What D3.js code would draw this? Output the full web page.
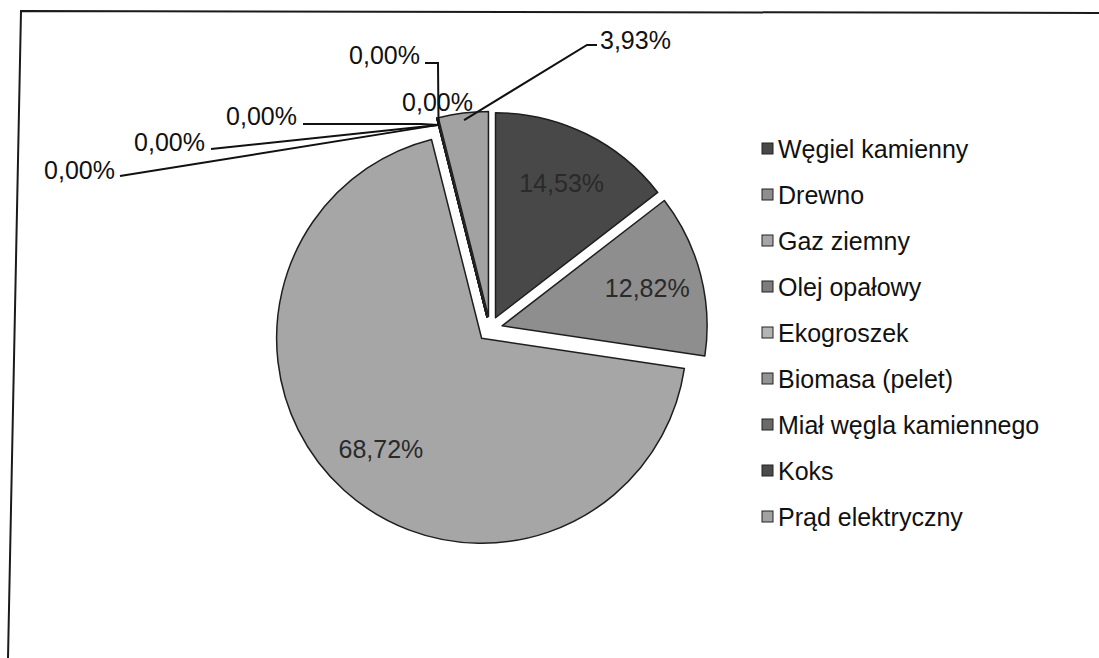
<!DOCTYPE html>
<html>
<head>
<meta charset="utf-8">
<script src="https://cdn.jsdelivr.net/npm/d3@7"></script>
<style>
  body { margin: 0; background: #fff; }
  svg { display: block; font-family: "Liberation Sans", Arial, sans-serif; }
</style>
</head>
<body>
<div id="chart"></div>
<script>
// data
const categories = ["Węgiel kamienny", "Drewno", "Gaz ziemny", "Olej opałowy", "Ekogroszek",
  "Biomasa (pelet)", "Miał węgla kamiennego", "Koks", "Prąd elektryczny"];
const shares = [14.53, 12.82, 68.72, 0, 0, 0, 0, 0, 3.93];
const valueLabels = ["14,53%", "12,82%", "68,72%", "0,00%", "0,00%", "0,00%", "0,00%", "0,00%", "3,93%"];
const fills = ["#484848", "#8e8e8e", "#a6a6a6", "#7d7d7d", "#b4b4b4", "#939393", "#6a6a6a", "#4a4a4a", "#a2a2a2"];

const width = 1099;
const height = 658;
const cx = 490, cy = 329, radius = 205, explode = 12.5;

// where the outside labels sit (layout only): text right edge / centre y, optional elbow
const outside = {
  3: { x: 115, y: 170, path: [[120, 176]] },
  4: { x: 205, y: 142, path: [[211, 149]] },
  5: { x: 297, y: 116, path: [[303, 124], [421, 124]] },
  6: { x: 473, y: 102, path: null },
  7: { x: 420, y: 55, path: [[425, 63], [438, 63]] },
  8: { x: 600, y: 40, start: true, path: [[597, 45], [587, 45]] }
};

const svg = d3.select('#chart')
  .append('svg')
  .attr('width', width)
  .attr('height', height)
  .attr('viewBox', [0, 0, width, height]);

// frame of the scanned chart area
svg.append('path')
  .attr('d', 'M8,658 L21,11 L1099,13')
  .attr('fill', 'none')
  .attr('stroke', '#1a1a1a')
  .attr('stroke-width', 2);

const pie = d3.pie().sort(null).value(d => d);
const arcs = pie(shares);

const arc = d3.arc().innerRadius(0).outerRadius(radius);
const labelArc = d3.arc().innerRadius(150).outerRadius(150);
const edgeArc = d3.arc().innerRadius(198).outerRadius(198);

function offset(d) {
  const mid = (d.startAngle + d.endAngle) / 2;
  return [cx + Math.sin(mid) * explode, cy - Math.cos(mid) * explode];
}

svg.append('g')
  .selectAll('path')
  .data(arcs)
  .join('path')
    .attr('transform', d => `translate(${offset(d)})`)
    .attr('d', arc)
    .attr('fill', (d, i) => fills[i])
    .attr('stroke', '#1e1e1e')
    .attr('stroke-width', 1.5)
    .attr('stroke-linejoin', 'round');

// labels inside the big slices
svg.append('g')
  .selectAll('text')
  .data(arcs.filter(d => d.value > 10))
  .join('text')
    .attr('x', d => offset(d)[0] + labelArc.centroid(d)[0])
    .attr('y', d => offset(d)[1] + labelArc.centroid(d)[1])
    .attr('dy', '0.35em')
    .attr('text-anchor', 'middle')
    .attr('font-size', 25)
    .attr('fill', '#2a2a2a')
    .text(d => valueLabels[d.index]);

// outside labels with leader lines
const outG = svg.append('g');
arcs.filter(d => outside[d.index]).forEach(d => {
  const o = outside[d.index];
  const c = edgeArc.centroid(d);
  const p = offset(d);
  const anchor = [p[0] + c[0], p[1] + c[1]];
  if (o.path) {
    outG.append('path')
      .attr('d', d3.line()(o.path.concat([anchor])))
      .attr('fill', 'none')
      .attr('stroke', '#111')
      .attr('stroke-width', 2);
  }
  outG.append('text')
    .attr('x', o.x)
    .attr('y', o.y)
    .attr('dy', '0.36em')
    .attr('text-anchor', o.start ? 'start' : 'end')
    .attr('font-size', 25)
    .attr('fill', '#111')
    .text(valueLabels[d.index]);
});

// legend
const legend = svg.append('g')
  .selectAll('g')
  .data(categories)
  .join('g')
    .attr('transform', (d, i) => `translate(762, ${158 + i * 46})`);

legend.append('rect')
  .attr('x', 0)
  .attr('y', -15)
  .attr('width', 11)
  .attr('height', 11)
  .attr('fill', (d, i) => fills[i])
  .attr('stroke', '#222')
  .attr('stroke-width', 1);

legend.append('text')
  .attr('x', 16)
  .attr('y', 0)
  .attr('font-size', 25)
  .attr('fill', '#111')
  .text(d => d);
</script>
</body>
</html>
